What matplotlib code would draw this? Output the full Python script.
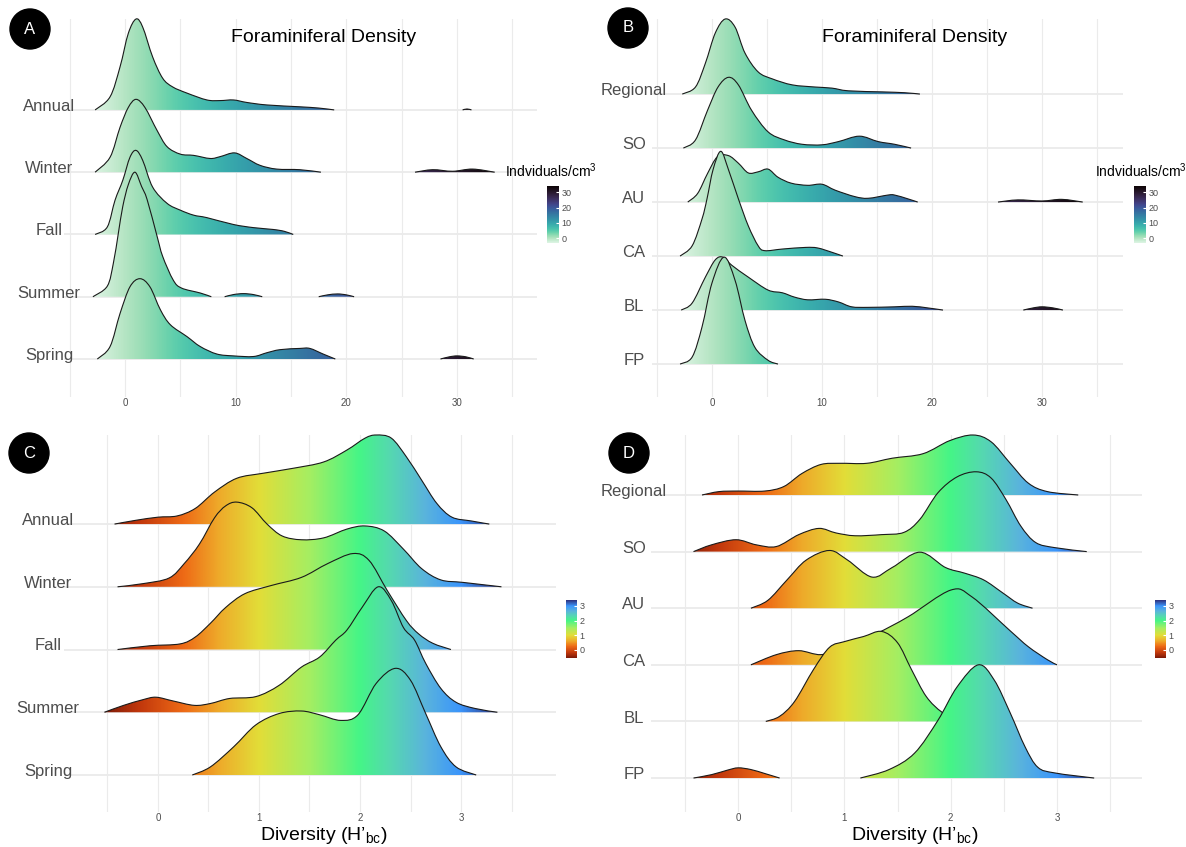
import numpy as np
import matplotlib
matplotlib.use("Agg")
import matplotlib.pyplot as plt
import seaborn as sns
from matplotlib.path import Path
from matplotlib.patches import PathPatch, Ellipse
from matplotlib.colors import Normalize, LinearSegmentedColormap
from matplotlib.cm import ScalarMappable
from matplotlib import transforms

plt.rcParams["font.family"] = ["Liberation Sans", "DejaVu Sans"]
plt.rcParams["mathtext.fontset"] = "custom"
plt.rcParams["mathtext.rm"] = "Liberation Sans"
plt.rcParams["mathtext.it"] = "Liberation Sans:italic"

# ---- data: ridge curves (x, height in row units) ----
seasons = ["Spring", "Summer", "Fall", "Winter", "Annual"]
regions = ["FP", "BL", "CA", "AU", "SO", "Regional"]

# panel A: density by season
a_annual = [
    ([-2.7, -1.35, -0.45, 0.3, 1.0, 1.6, 2.5, 3.4, 4.3, 5.6, 7.4, 8.6, 9.8, 11.0, 12.8, 15.8, 17.5, 18.9],
     [0, 0.21, 0.69, 1.23, 1.46, 1.33, 0.85, 0.51, 0.37, 0.27, 0.16, 0.15, 0.16, 0.12, 0.08, 0.05, 0.03, 0]),
    ([30.5, 30.9, 31.3], [0, 0.015, 0]),
]
a_winter = [
    ([-2.7, -1.35, -0.45, 0.3, 1.0, 1.8, 2.9, 3.8, 5.0, 6.2, 7.7, 8.6, 9.9, 11.0, 12.2, 13.7, 15.8, 17.7],
     [0, 0.24, 0.72, 1.04, 1.17, 1.04, 0.67, 0.41, 0.29, 0.27, 0.22, 0.25, 0.31, 0.22, 0.11, 0.05, 0.04, 0]),
    ([26.2, 27.8, 29.6, 31.4, 33.4], [0, 0.04, 0.015, 0.05, 0]),
]
a_fall = [
    ([-2.7, -1.6, -0.9, -0.2, 0.45, 1.0, 1.6, 2.5, 3.8, 5.0, 6.2, 7.4, 9.8, 11.6, 13.4, 14.4, 15.2],
     [0, 0.12, 0.55, 0.87, 1.24, 1.35, 1.19, 0.76, 0.5, 0.39, 0.31, 0.27, 0.16, 0.11, 0.08, 0.05, 0]),
]
a_summer = [
    ([-2.9, -1.6, -1.05, -0.6, -0.2, 0.3, 0.9, 1.5, 2.0, 2.9, 3.4, 4.35, 5.1, 6.8, 7.8],
     [0, 0.17, 0.54, 1.02, 1.45, 1.8, 2.0, 1.77, 1.56, 0.97, 0.65, 0.27, 0.14, 0.06, 0]),
    ([9.0, 9.8, 10.7, 11.6, 12.4], [0, 0.035, 0.05, 0.035, 0]),
    ([17.5, 18.3, 19.2, 20.0, 20.7], [0, 0.03, 0.045, 0.03, 0]),
]
a_spring = [
    ([-2.5, -1.35, -0.45, 0.45, 1.35, 2.25, 3.2, 4.1, 5.6, 6.8, 8.3, 9.8, 11.6, 12.8, 14.0, 15.8, 16.7, 17.9, 19.0],
     [0, 0.2, 0.73, 1.16, 1.29, 1.16, 0.79, 0.55, 0.36, 0.2, 0.08, 0.05, 0.04, 0.1, 0.15, 0.17, 0.17, 0.08, 0]),
    ([28.5, 29.3, 30.0, 30.8, 31.5], [0, 0.035, 0.05, 0.035, 0]),
]

# panel B: density by region
b_regional = [
    ([-2.7, -1.5, -0.6, 0.3, 1.2, 2.1, 3.0, 4.2, 5.5, 7.3, 9.4, 10.9, 12.4, 15.5, 17.5, 18.9],
     [0, 0.13, 0.57, 1.13, 1.39, 1.24, 0.76, 0.41, 0.28, 0.17, 0.13, 0.11, 0.06, 0.04, 0.025, 0]),
]
b_so = [
    ([-2.6, -1.5, -0.4, 0.55, 1.5, 2.4, 3.6, 5.1, 6.6, 8.2, 10.0, 11.5, 13.4, 15.1, 16.6, 18.1],
     [0, 0.15, 0.7, 1.13, 1.31, 1.17, 0.7, 0.3, 0.15, 0.07, 0.06, 0.12, 0.22, 0.12, 0.07, 0]),
]
b_au = [
    ([-2.2, -1.3, -0.4, 0.5, 1.5, 2.4, 3.3, 4.2, 5.1, 6.0, 7.2, 8.7, 10.0, 11.2, 13.0, 14.2, 16.0, 16.6, 17.8, 18.7],
     [0, 0.16, 0.53, 0.84, 0.86, 0.72, 0.54, 0.56, 0.61, 0.46, 0.35, 0.31, 0.33, 0.22, 0.1, 0.07, 0.13, 0.13, 0.06, 0]),
    ([26.0, 27.8, 30.0, 31.8, 33.7], [0, 0.04, 0.02, 0.05, 0]),
]
b_ca = [
    ([-2.9, -1.8, -0.9, -0.45, 0.1, 0.8, 1.5, 2.4, 3.3, 4.2, 4.8, 6.4, 8.5, 9.6, 10.9, 11.9],
     [0, 0.19, 0.69, 1.06, 1.6, 1.94, 1.6, 1.06, 0.56, 0.19, 0.1, 0.13, 0.16, 0.15, 0.07, 0]),
]
b_bl = [
    ([-2.8, -1.8, -0.6, 0.3, 1.0, 1.8, 3.3, 5.1, 6.4, 7.5, 8.7, 10.3, 11.5, 12.7, 14.2, 16.6, 18.2, 19.6, 21.0],
     [0, 0.13, 0.61, 0.93, 0.98, 0.83, 0.61, 0.37, 0.32, 0.24, 0.19, 0.2, 0.15, 0.06, 0.05, 0.06, 0.07, 0.04, 0]),
    ([28.3, 29.2, 30.0, 31.0, 31.9], [0, 0.04, 0.06, 0.04, 0]),
]
b_fp = [
    ([-2.9, -1.8, -0.9, 0.0, 1.1, 2.1, 3.0, 3.9, 5.1, 6.0],
     [0, 0.13, 0.69, 1.5, 1.98, 1.55, 0.81, 0.31, 0.07, 0]),
]

# panel C: diversity by season
c_annual = [
    ([-0.43, -0.22, 0.0, 0.19, 0.37, 0.56, 0.78, 1.04, 1.34, 1.64, 1.87, 2.05, 2.16, 2.31, 2.46, 2.61, 2.76, 2.91, 3.1, 3.28],
     [0, 0.06, 0.11, 0.13, 0.25, 0.51, 0.73, 0.81, 0.89, 0.99, 1.18, 1.37, 1.42, 1.37, 1.07, 0.7, 0.33, 0.11, 0.05, 0]),
]
c_winter = [
    ([-0.4, -0.15, 0.11, 0.26, 0.41, 0.56, 0.67, 0.78, 0.93, 1.08, 1.23, 1.42, 1.64, 1.87, 2.05, 2.24, 2.43, 2.61, 2.8, 3.02, 3.4],
     [0, 0.05, 0.14, 0.37, 0.68, 1.1, 1.29, 1.35, 1.26, 1.0, 0.81, 0.75, 0.78, 0.92, 0.97, 0.89, 0.6, 0.29, 0.11, 0.07, 0]),
]
c_fall = [
    ([-0.4, -0.08, 0.22, 0.37, 0.52, 0.67, 0.86, 1.12, 1.42, 1.68, 1.93, 2.09, 2.27, 2.46, 2.58, 2.72, 2.9],
     [0, 0.06, 0.09, 0.2, 0.42, 0.67, 0.89, 1.02, 1.15, 1.37, 1.53, 1.42, 0.94, 0.46, 0.25, 0.1, 0]),
]
c_summer = [
    ([-0.53, -0.34, -0.15, -0.02, 0.15, 0.36, 0.52, 0.71, 0.97, 1.2, 1.42, 1.6, 1.76, 1.87, 2.02, 2.18, 2.31, 2.43, 2.54, 2.65, 2.8, 2.95, 3.14, 3.36],
     [0, 0.11, 0.2, 0.24, 0.18, 0.11, 0.14, 0.22, 0.25, 0.43, 0.72, 0.88, 1.15, 1.31, 1.67, 2.0, 1.78, 1.35, 1.15, 0.78, 0.38, 0.16, 0.06, 0]),
]
c_spring = [
    ([0.34, 0.52, 0.75, 0.97, 1.2, 1.42, 1.6, 1.81, 1.98, 2.16, 2.35, 2.5, 2.65, 2.8, 2.95, 3.15],
     [0, 0.13, 0.45, 0.8, 0.98, 1.02, 0.96, 0.87, 0.96, 1.46, 1.7, 1.51, 0.98, 0.45, 0.13, 0]),
]

# panel D: diversity by region
d_regional = [
    ([-0.34, -0.18, 0.0, 0.25, 0.43, 0.6, 0.78, 0.96, 1.21, 1.45, 1.74, 1.99, 2.21, 2.38, 2.56, 2.73, 2.91, 3.2],
     [0, 0.06, 0.07, 0.07, 0.15, 0.38, 0.54, 0.56, 0.56, 0.65, 0.73, 0.96, 1.06, 0.94, 0.56, 0.21, 0.06, 0]),
]
d_so = [
    ([-0.42, -0.25, -0.02, 0.17, 0.36, 0.57, 0.76, 0.92, 1.1, 1.35, 1.56, 1.71, 1.88, 2.06, 2.24, 2.38, 2.52, 2.66, 2.8, 2.98, 3.28],
     [0, 0.12, 0.21, 0.12, 0.09, 0.3, 0.41, 0.33, 0.28, 0.3, 0.34, 0.57, 1.04, 1.32, 1.41, 1.3, 0.92, 0.45, 0.16, 0.07, 0]),
]
d_au = [
    ([0.12, 0.28, 0.46, 0.64, 0.86, 1.03, 1.26, 1.45, 1.71, 1.95, 2.13, 2.31, 2.49, 2.63, 2.77],
     [0, 0.14, 0.5, 0.85, 1.02, 0.85, 0.55, 0.72, 0.99, 0.72, 0.62, 0.5, 0.27, 0.09, 0]),
]
d_ca = [
    ([0.12, 0.36, 0.57, 0.78, 1.0, 1.3, 1.6, 2.0, 2.2, 2.56, 2.73, 2.91, 3.0],
     [0, 0.18, 0.25, 0.18, 0.3, 0.55, 0.85, 1.32, 1.2, 0.6, 0.32, 0.09, 0]),
]
d_bl = [
    ([0.26, 0.39, 0.53, 0.71, 0.86, 1.0, 1.18, 1.35, 1.5, 1.63, 1.77, 1.92, 2.09],
     [0, 0.09, 0.35, 0.92, 1.31, 1.41, 1.5, 1.59, 1.39, 0.92, 0.44, 0.16, 0]),
]
d_fp = [
    ([-0.42, -0.25, -0.1, 0.0, 0.12, 0.25, 0.39], [0, 0.06, 0.14, 0.18, 0.15, 0.08, 0]),
    ([1.15, 1.42, 1.66, 1.88, 2.06, 2.26, 2.41, 2.56, 2.7, 2.82, 2.98, 3.35],
     [0, 0.15, 0.44, 1.02, 1.61, 2.0, 1.73, 1.15, 0.55, 0.19, 0.09, 0]),
]

density_ticks = [0, 10, 20, 30]
density_minor = [-5, 5, 15, 25, 35]
diversity_ticks = [0, 1, 2, 3]
diversity_minor = [-0.5, 0.5, 1.5, 2.5, 3.5]

# ---- colours ----
mako = sns.color_palette("mako_r", as_cmap=True)
div_stops = [-0.55, -0.2, 0.25, 0.6, 1.0, 1.5, 2.0, 2.3, 2.65, 3.0, 3.4]
div_cols = ["#7a1a08", "#c0360c", "#ee6a16", "#eeaa2a", "#e2dd38", "#a5ee62",
            "#45f587", "#55d8b0", "#5ab4dc", "#3b95fb", "#2e2f7a"]
lo, hi = div_stops[0], div_stops[-1]
divmap = LinearSegmentedColormap.from_list(
    "div", [((s - lo) / (hi - lo), c) for s, c in zip(div_stops, div_cols)])
dens_norm = Normalize(-3, 34)
div_norm = Normalize(lo, hi)

W, H = 1186, 847
fig = plt.figure(figsize=(W / 100, H / 100), dpi=100)
GRID = "#ebebeb"
TXT = "#4d4d4d"


def px_axes(l, t, r, b):
    return fig.add_axes([l / W, 1 - b / H, (r - l) / W, (b - t) / H])


def curve(xs, hs, base):
    pts = np.column_stack([xs, np.asarray(hs, float) + base])
    n = len(pts)
    verts, codes = [pts[0]], [Path.MOVETO]
    for i in range(n - 1):
        p0, p1 = pts[max(i - 1, 0)], pts[i]
        p2, p3 = pts[i + 1], pts[min(i + 2, n - 1)]
        c1 = p1 + (p2 - p0) / 6
        c2 = p2 - (p3 - p1) / 6
        c1[1] = max(c1[1], base)
        c2[1] = max(c2[1], base)
        verts += [c1, c2, p2]
        codes += [Path.CURVE4] * 3
    return verts, codes


def ridge(ax, segs, row, cmap, norm, z):
    fv, fc, lv, lc = [], [], [], []
    for xs, hs in segs:
        v, c = curve(xs, hs, row)
        fv += v + [v[0]]
        fc += c + [Path.CLOSEPOLY]
        lv += v
        lc += c
    clip = PathPatch(Path(fv, fc), transform=ax.transData, fc="none", ec="none")
    ax.add_patch(clip)
    x0, x1 = ax.get_xlim()
    y0, y1 = ax.get_ylim()
    grad = np.linspace(x0, x1, 800)[None, :]
    im = ax.imshow(grad, extent=(x0, x1, y0, y1), origin="lower", aspect="auto",
                   cmap=cmap, norm=norm, interpolation="bilinear", zorder=z)
    im.set_clip_path(clip)
    ax.add_patch(PathPatch(Path(lv, lc), fc="none", ec="#1a1a1a", lw=0.8,
                           zorder=z + 0.5, clip_on=False))


def panel(rect, xlim, ylim, names, ridges, cmap, norm, ticks, minor, lab_x):
    ax = px_axes(*rect)
    ax.set_xlim(*xlim)
    ax.set_ylim(*ylim)
    ax.set_autoscale_on(False)
    for s in ax.spines.values():
        s.set_visible(False)
    ax.set_yticks([])
    ax.set_xticks(ticks)
    ax.set_xticks(minor, minor=True)
    ax.tick_params(axis="x", which="both", length=0, pad=1, labelsize=7, labelcolor=TXT)
    ax.grid(axis="x", which="both", color=GRID, lw=0.8, zorder=0)
    ax.set_axisbelow(True)
    rows = np.arange(1, len(names) + 1)
    ax.hlines(rows, xlim[0], xlim[1], color=GRID, lw=1.3, zorder=0.5)
    tr = transforms.blended_transform_factory(fig.transFigure, ax.transData)
    for r, name in zip(rows, names):
        ax.text(lab_x / W, r + 0.06, name, transform=tr, ha="center", va="center",
                fontsize=12, color=TXT)
    # back rows first, front rows drawn last
    for k, (r, segs) in enumerate(sorted(zip(rows, ridges), key=lambda t: -t[0])):
        ridge(ax, segs, r, cmap, norm, 2 + k)
    return ax


def badge(x, y, letter):
    r = 20
    fig.add_artist(Ellipse((x / W, 1 - y / H), 2 * r / W, 2 * r / H,
                           transform=fig.transFigure, color="black"))
    fig.text(x / W, 1 - y / H, letter, ha="center", va="center", color="white", fontsize=12)


def cbar(rect, cmap, norm, ticks):
    cax = px_axes(*rect)
    cb = fig.colorbar(ScalarMappable(norm=norm, cmap=cmap), cax=cax, ticks=ticks)
    cb.outline.set_visible(False)
    cax.tick_params(direction="in", color="white", length=2.5, width=0.8,
                    labelsize=6.5, labelcolor=TXT, pad=2)
    return cb


panel((64, 19, 537, 397), (-5.51, 37.22), (0.39, 6.46), seasons,
      [a_spring, a_summer, a_fall, a_winter, a_annual],
      mako, dens_norm, density_ticks, density_minor, 49)
panel((652, 19, 1123, 397), (-5.45, 37.36), (0.39, 7.39), regions,
      [b_fp, b_bl, b_ca, b_au, b_so, b_regional],
      mako, dens_norm, density_ticks, density_minor, 634)
panel((64, 435, 556, 812), (-0.93, 3.94), (0.41, 6.42), seasons,
      [c_spring, c_summer, c_fall, c_winter, c_annual],
      divmap, div_norm, diversity_ticks, diversity_minor, 48)
panel((651, 435, 1142, 812), (-0.82, 3.80), (0.40, 7.06), regions,
      [d_fp, d_bl, d_ca, d_au, d_so, d_regional],
      divmap, div_norm, diversity_ticks, diversity_minor, 634)

fig.text(324 / W, 1 - 38 / H, "Foraminiferal Density", ha="center", va="center", fontsize=14)
fig.text(915 / W, 1 - 38 / H, "Foraminiferal Density", ha="center", va="center", fontsize=14)
fig.text(324 / W, 1 - 835 / H, r"Diversity (H’$_{\mathrm{bc}}$)", ha="center", va="center", fontsize=14)
fig.text(915 / W, 1 - 835 / H, r"Diversity (H’$_{\mathrm{bc}}$)", ha="center", va="center", fontsize=14)

fig.text(505 / W, 1 - 171 / H, r"Indviduals/cm$^3$", ha="left", va="center", fontsize=10)
fig.text(1095 / W, 1 - 171 / H, r"Indviduals/cm$^3$", ha="left", va="center", fontsize=10)

cbar((547, 186, 559, 243), mako, dens_norm, density_ticks)
cbar((1134, 186, 1146, 243), mako, dens_norm, density_ticks)
cbar((566, 600, 577, 658), divmap, div_norm, diversity_ticks)
cbar((1155, 600, 1166, 658), divmap, div_norm, diversity_ticks)

badge(30, 29, "A")
badge(628, 28, "B")
badge(29, 453, "C")
badge(629, 453, "D")

fig.savefig("out.png", dpi=100)
